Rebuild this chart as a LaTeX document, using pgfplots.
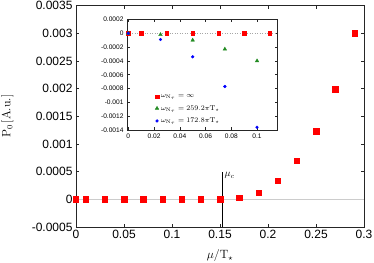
\documentclass[border=0pt]{standalone}
\usepackage{pgfplots}
\pgfplotsset{compat=1.18}
\usepackage{fontspec}
\newfontfamily\tickfont{Liberation Sans}
\definecolor{mygreen}{RGB}{34,139,34}
\begin{document}
\begin{tikzpicture}
\begin{axis}[name=main, scale only axis, width=288pt, height=221.5pt,
  xmin=0, xmax=0.3, ymin=-0.0005, ymax=0.0035,
  xtick={0,0.05,0.1,0.15,0.2,0.25,0.3},
  ytick={-0.0005,0,0.0005,0.001,0.0015,0.002,0.0025,0.003,0.0035},
  scaled x ticks=false, scaled y ticks=false,
  /pgf/number format/assume math mode=true,
  /pgf/number format/fixed, /pgf/number format/precision=4,
  tick label style={font=\tickfont\fontsize{12}{14}\selectfont},
  axis line style={black!85, line width=0.7pt},
  major tick style={black!85, line width=0.6pt},
  major tick length=3.5pt,
  minor tick num=0,
  xlabel={$\mu/\mathrm{T_\star}$}, ylabel={$\mathrm{P_0\,[A.u.]}$},
  label style={font=\fontsize{12}{14}\selectfont},
  xlabel style={at={(axis description cs:0.5,-0.128)}, anchor=center},
  ylabel style={at={(axis description cs:-0.238,0.5)}, anchor=center},
  clip mode=individual,
]
\addplot[black!20, line width=0.8pt, forget plot] coordinates {(0,0) (0.3,0)};
\addplot[black, line width=0.8pt, forget plot] coordinates {(0.153,-0.0005) (0.153,0.0005)};
\node[anchor=north west, inner sep=0.5pt, xshift=1pt, font=\fontsize{10}{12}\selectfont] at (axis cs:0.153,0.0005) {$\mu_c$};
\addplot[only marks, mark=square*, mark size=2.7pt, color=red] coordinates {
(0,0) (0.01,0) (0.03,0) (0.05,0) (0.07,0) (0.09,0) (0.11,0) (0.13,0) (0.15,0)
(0.17,0.00003) (0.19,0.00012) (0.21,0.00034) (0.23,0.0007) (0.25,0.00123) (0.27,0.00199) (0.29,0.003)};
\end{axis}
\pgfresetboundingbox
\path[use as bounding box] ([shift={(-76pt,-35pt)}]main.south west) rectangle ([shift={(298pt,227pt)}]main.south west);
\begin{axis}[at={(main.south west)}, shift={(51pt,97pt)}, anchor=south west,
  scale only axis, width=150pt, height=110.5pt,
  xmin=-0.001, xmax=0.1155, ymin=-0.0014, ymax=0.0002,
  xtick={0,0.02,0.04,0.06,0.08,0.1},
  ytick={-0.0014,-0.0012,-0.001,-0.0008,-0.0006,-0.0004,-0.0002,0,0.0002},
  scaled x ticks=false, scaled y ticks=false,
  /pgf/number format/assume math mode=true,
  /pgf/number format/fixed, /pgf/number format/precision=4,
  tick label style={font=\tickfont\fontsize{6.6}{8}\selectfont},
  axis line style={black!85, line width=0.6pt},
  major tick style={black!85, line width=0.5pt},
  major tick length=2.5pt,
  minor tick num=0,
  clip mode=individual,
  legend style={at={(0.18,0.025)}, anchor=south west, draw=none, fill=none,
    font=\fontsize{7}{8.5}\selectfont, row sep=2.3pt, inner sep=1pt},
  legend cell align=left,
]
\addplot[black!35, dotted, line width=0.5pt, forget plot] coordinates {(-0.001,0) (0.1155,0)};
\addplot[only marks, mark=square*, mark size=1.7pt, color=red] coordinates {
(0,0) (0.01,0) (0.03,0) (0.05,0) (0.07,0) (0.09,0) (0.11,0)};
\addlegendentry{$\omega_{\mathrm{N_\tau}}=\infty$}
\addplot[only marks, mark=triangle*, mark size=2.1pt, color=mygreen] coordinates {
(0,0) (0.025,-0.00002) (0.05,-0.0001) (0.075,-0.00023) (0.1,-0.0004)};
\addlegendentry{$\omega_{\mathrm{N_\tau}}=259.2\pi\mathrm{T_\star}$}
\addplot[only marks, mark=*, mark size=1.4pt, color=blue] coordinates {
(0,0) (0.025,-0.00009) (0.05,-0.00034) (0.075,-0.00077) (0.1,-0.00136)};
\addlegendentry{$\omega_{\mathrm{N_\tau}}=172.8\pi\mathrm{T_\star}$}
\end{axis}
\end{tikzpicture}
\end{document}
